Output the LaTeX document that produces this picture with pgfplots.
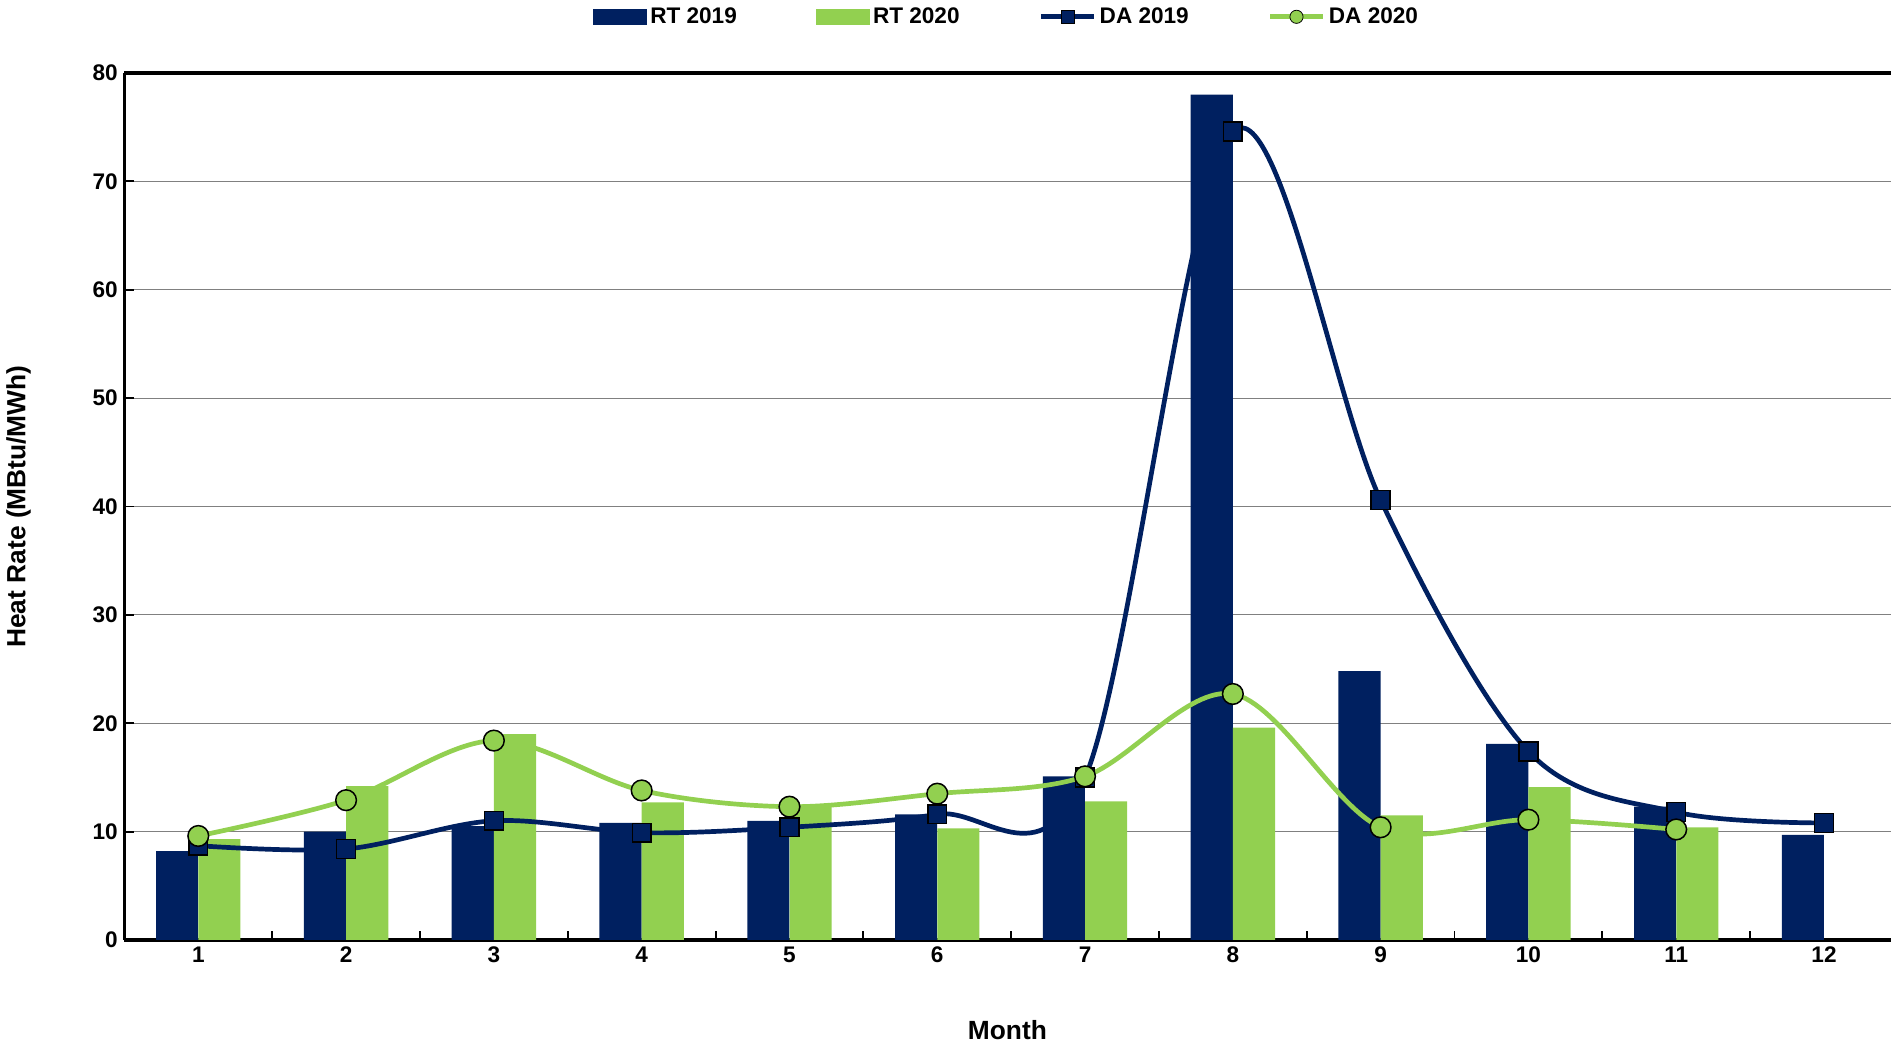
\documentclass[border=0pt]{standalone}
\usepackage{pgfplots}
\pgfplotsset{compat=1.18}
\usepackage{fontspec}
\setmainfont{Liberation Sans}
\definecolor{navy}{RGB}{0,32,96}
\definecolor{lgreen}{RGB}{146,208,80}
\begin{document}
\begin{tikzpicture}
\begin{axis}[
  scale only axis, width=33cm, height=16.2cm,
  xmin=0.5, xmax=12.45, ymin=0, ymax=80,
  axis x line*=bottom, axis y line*=left,
  axis line style={line width=1.6pt},
  xtick={1,...,12}, minor xtick={1.5,2.5,...,11.5},
  major x tick style={draw=none},
  minor tick length=5pt, major tick length=5pt,
  tick style={black,line width=1pt},
  ytick={0,10,...,80}, ymajorgrids, grid style={gray,line width=0.5pt},
  tick label style={font=\bfseries\fontsize{12}{14}\selectfont},
  /pgf/number format/assume math mode=true,
  xlabel={\bfseries Month}, ylabel={\bfseries Heat Rate (MBtu/MWh)},
  label style={font=\bfseries\fontsize{14}{17}\selectfont},
  xlabel style={yshift=-24pt}, ylabel style={yshift=26pt},
  legend style={at={(0.5,1.045)},anchor=south,draw=none,legend columns=4,
    font=\bfseries\fontsize{12}{14}\selectfont,/tikz/every even column/.append style={column sep=40pt}},
  clip=false,
]
\addlegendimage{legend image code/.code={\fill[navy] (0pt,-4pt) rectangle (28pt,4pt);}}
\addlegendentry{RT 2019}
\addlegendimage{legend image code/.code={\fill[lgreen] (0pt,-4pt) rectangle (28pt,4pt);}}
\addlegendentry{RT 2020}
\addlegendimage{legend image code/.code={\draw[navy,line width=2.5pt] (0pt,0pt)--(28pt,0pt); \filldraw[fill=navy,draw=black] (11pt,-3.5pt) rectangle (18pt,3.5pt);}}
\addlegendentry{DA 2019}
\addlegendimage{legend image code/.code={\draw[lgreen,line width=2.5pt] (0pt,0pt)--(28pt,0pt); \filldraw[fill=lgreen,draw=black] (14pt,0pt) circle (3.5pt);}}
\addlegendentry{DA 2020}
\addplot[ybar, bar width=0.285, bar shift=-0.143, fill=navy, draw=none, forget plot] coordinates {
(1,8.2)(2,10)(3,10.5)(4,10.8)(5,11)(6,11.6)(7,15.1)(8,78)(9,24.8)(10,18.1)(11,12.3)(12,9.7)};
\addplot[ybar, bar width=0.285, bar shift=0.143, fill=lgreen, draw=none, forget plot] coordinates {
(1,9.3)(2,14.2)(3,19)(4,12.7)(5,12.5)(6,10.3)(7,12.8)(8,19.6)(9,11.5)(10,14.1)(11,10.4)};
\addplot[navy, line width=2.5pt, smooth, tension=0.55, mark=square*, mark size=5pt,
  mark options={fill=navy,draw=black,line width=0.8pt}, forget plot] coordinates {
(1,8.7)(2,8.4)(3,11)(4,9.9)(5,10.4)(6,11.6)(7,15)(8,74.6)(9,40.6)(10,17.4)(11,11.8)(12,10.8)};
\addplot[lgreen, line width=2.5pt, smooth, tension=0.55, mark=*, mark size=5.5pt,
  mark options={fill=lgreen,draw=black,line width=0.8pt}, forget plot] coordinates {
(1,9.6)(2,12.9)(3,18.4)(4,13.8)(5,12.3)(6,13.5)(7,15.1)(8,22.7)(9,10.4)(10,11.1)(11,10.2)};
\draw[line width=1.6pt] (rel axis cs:0,1) -- (rel axis cs:1,1);
\end{axis}
\end{tikzpicture}
\end{document}
